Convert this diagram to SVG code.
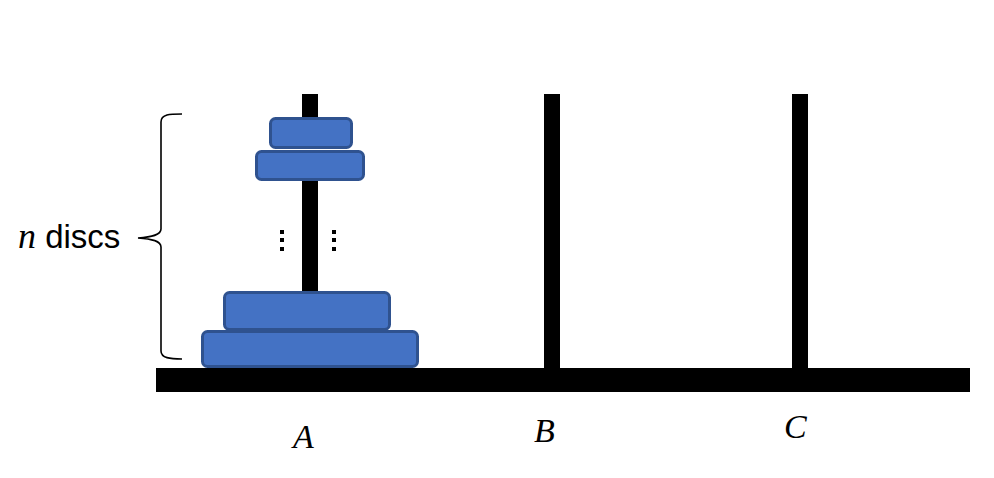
<svg xmlns="http://www.w3.org/2000/svg" width="994" height="478" viewBox="0 0 994 478">
<style>
.pole{fill:#000}
.disc{fill:#4472C4;stroke:#2F528F;stroke-width:3}
.lbl{font-family:"Liberation Serif",serif;font-style:italic;font-size:34px;fill:#000}
.dot{fill:#000}
</style>
<rect width="994" height="478" fill="#fff"/>
<g id="base"><rect class="pole" x="156" y="368" width="814" height="24"/></g>
<g id="pole-A"><rect class="pole" x="302" y="94" width="16" height="25"/><rect class="pole" x="302" y="178" width="16" height="116"/></g>
<g id="pole-B"><rect class="pole" x="544" y="94" width="16" height="276"/></g>
<g id="pole-C"><rect class="pole" x="792" y="94" width="16" height="276"/></g>
<g id="disc-1"><rect class="disc" x="270.5" y="118.5" width="81" height="29" rx="5"/></g>
<g id="disc-2"><rect class="disc" x="256.5" y="151.5" width="107" height="28" rx="5"/></g>
<g id="disc-3"><rect class="disc" x="224.5" y="292.5" width="165" height="37" rx="5"/></g>
<g id="disc-4"><rect class="disc" x="202.5" y="331.5" width="215" height="35" rx="5"/></g>
<g id="dots">
<rect class="dot" x="280" y="230" width="4" height="4"/>
<rect class="dot" x="280" y="238" width="4" height="4"/>
<rect class="dot" x="280" y="247" width="4" height="4"/>
<rect class="dot" x="332" y="230" width="4" height="4"/>
<rect class="dot" x="332" y="238" width="4" height="4"/>
<rect class="dot" x="332" y="247" width="4" height="4"/>
</g>
<g id="brace"><path d="M182,114 C170,114 161,114 161,122 L161,229 C161,235 152,237 138,238 C152,239 161,241 161,247 L161,351 C161,358 170,359 182,359" fill="none" stroke="#000" stroke-width="1.6"/></g>
<g id="label-n"><text x="18" y="248" font-size="33" font-family="'Liberation Sans',sans-serif"><tspan font-family="'Liberation Serif',serif" font-style="italic" font-size="36">n</tspan> discs</text></g>
<g id="label-A"><text class="lbl" x="293" y="448">A</text></g>
<g id="label-B"><text class="lbl" x="534" y="442">B</text></g>
<g id="label-C"><text class="lbl" x="784" y="438">C</text></g>
</svg>
